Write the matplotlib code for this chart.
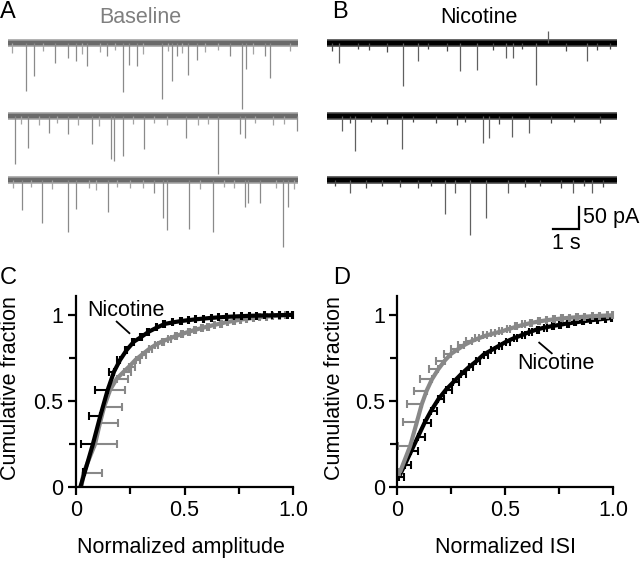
import numpy as np
import matplotlib
matplotlib.use('Agg')
from matplotlib import pyplot as plt

plt.rcParams['font.family'] = ['Liberation Sans', 'DejaVu Sans']

# ---- example traces: event times (s) and amplitudes (pA) per sweep ----
trace_len = 11.15
row_offsets = [0, -165, -310]

base_times = [
    [0.68, 1.01, 1.81, 2.30, 2.60, 3.05, 3.82, 4.43, 4.67, 4.95, 5.93, 6.30,
     6.49, 6.93, 7.26, 8.54, 8.99, 9.15, 9.88, 10.08],
    [0.27, 0.78, 1.58, 2.32, 3.24, 3.95, 4.09, 4.43, 5.24, 6.83, 8.09, 8.92,
     9.13, 11.10],
    [0.53, 1.32, 2.30, 2.60, 3.86, 5.63, 5.97, 6.10, 6.96, 7.90, 9.12, 9.24,
     9.69, 10.57, 10.78],
]
base_amps = [
    [109, 75, 45, 34, 41, 52, 30, 111, 50, 52, 127, 86, 30, 73, 39, 30, 150,
     59, 30, 79],
    [109, 73, 39, 41, 64, 98, 102, 91, 75, 50, 132, 41, 50, 34],
    [70, 98, 118, 66, 73, 30, 86, 114, 111, 118, 61, 52, 54, 152, 61],
]
# small blips riding on the noise
base_small_times = [
    [0.14, 1.36, 2.83, 3.54, 4.12, 5.20, 6.17, 6.68, 7.58, 8.09, 9.44, 10.85],
    [0.50, 1.20, 1.90, 2.70, 3.50, 4.80, 5.60, 6.10, 7.30, 7.70, 9.50, 10.20,
     10.60],
    [0.20, 0.90, 1.70, 3.10, 3.40, 4.20, 4.70, 5.20, 7.40, 8.30, 8.70, 10.30,
     11.00],
]
base_small_amps = [
    [22, 18, 25, 20, 16, 24, 18, 22, 20, 16, 24, 18],
    [18, 22, 16, 20, 24, 18, 16, 22, 20, 18, 16, 22, 18],
    [20, 16, 22, 18, 24, 16, 20, 18, 22, 16, 20, 18, 22],
]
nic_times = [
    [0.46, 2.93, 3.51, 5.12, 5.76, 6.87, 7.17, 8.03, 8.51, 9.99],
    [0.57, 1.08, 2.90, 6.01, 6.23, 7.10, 7.77],
    [0.88, 4.55, 4.92, 5.50, 6.10, 6.97, 9.47, 10.18],
]
nic_amps = [
    [45, 98, 41, 64, 61, 34, 34, 95, -27, 41],
    [34, 79, 75, 61, 50, 48, 39],
    [30, 79, 30, 125, 86, 30, 30, 30],
]
nic_small_times = [
    [0.20, 1.20, 1.60, 2.30, 3.90, 4.60, 6.40, 7.50, 9.20, 10.40, 10.90],
    [0.90, 1.70, 2.30, 3.30, 4.20, 5.00, 5.30, 6.60, 8.60, 9.50, 10.50],
    [0.30, 1.50, 2.10, 2.80, 3.50, 4.00, 7.60, 8.20, 9.00, 9.90, 10.60],
]
nic_small_amps = [
    [18, 14, 16, 20, 14, 18, 16, 14, 18, 16, 14],
    [16, 14, 18, 14, 16, 20, 14, 18, 16, 14, 16],
    [14, 18, 14, 16, 20, 14, 16, 14, 18, 14, 16],
]

# ---- cumulative distributions ----
nic_amp_x = [0.041, 0.078, 0.112, 0.146, 0.175, 0.203, 0.234, 0.267, 0.303, 0.336,
             0.375, 0.410, 0.448, 0.487, 0.520, 0.555, 0.590, 0.625, 0.660, 0.695,
             0.730, 0.765, 0.800, 0.835, 0.870, 0.905, 0.940, 0.975, 1.000]
nic_amp_y = [0.089, 0.250, 0.413, 0.564, 0.670, 0.738, 0.797, 0.845, 0.874, 0.903,
             0.928, 0.948, 0.957, 0.965, 0.970, 0.975, 0.979, 0.983, 0.986, 0.989,
             0.991, 0.993, 0.995, 0.996, 0.997, 0.998, 0.999, 1.000, 1.000]
nic_amp_err = [0.010, 0.054, 0.054, 0.058, 0.023, 0.012, 0.010, 0.009, 0.008, 0.008,
               0.007, 0.007, 0.006, 0.006, 0.006, 0.005, 0.005, 0.005, 0.005, 0.004,
               0.004, 0.004, 0.004, 0.004, 0.003, 0.003, 0.003, 0.003, 0.003]
nic_amp_start = 0.02

base_amp_x = [0.034, 0.088, 0.110, 0.130, 0.157, 0.188, 0.220, 0.245, 0.275, 0.305,
              0.335, 0.365, 0.395, 0.425, 0.455, 0.485, 0.515, 0.545, 0.575, 0.605,
              0.635, 0.665, 0.695, 0.725, 0.755, 0.785, 0.815, 0.845, 0.875, 0.905,
              0.935, 0.965, 0.995]
base_amp_y = [0.080, 0.250, 0.370, 0.467, 0.564, 0.630, 0.670, 0.700, 0.740, 0.770,
              0.800, 0.825, 0.845, 0.860, 0.875, 0.888, 0.900, 0.912, 0.922, 0.932,
              0.941, 0.950, 0.958, 0.965, 0.972, 0.977, 0.982, 0.986, 0.990, 0.993,
              0.996, 0.998, 1.000]
base_amp_err = [0.085, 0.100, 0.085, 0.080, 0.070, 0.050, 0.035, 0.025, 0.020, 0.018,
                0.015, 0.013, 0.012, 0.011, 0.010, 0.010, 0.009, 0.009, 0.008, 0.008,
                0.007, 0.007, 0.006, 0.006, 0.006, 0.005, 0.005, 0.005, 0.004, 0.004,
                0.004, 0.003, 0.003]
base_amp_start = 0.025

base_isi_x = [0.012, 0.060, 0.090, 0.113, 0.136, 0.160, 0.190, 0.220, 0.250, 0.280,
              0.310, 0.345, 0.380, 0.415, 0.450, 0.485, 0.520, 0.555, 0.590, 0.625,
              0.660, 0.695, 0.730, 0.765, 0.800, 0.835, 0.870, 0.905, 0.940, 0.975,
              1.000]
base_isi_y = [0.085, 0.240, 0.375, 0.480, 0.560, 0.625, 0.685, 0.735, 0.775, 0.800,
              0.825, 0.848, 0.866, 0.882, 0.894, 0.905, 0.920, 0.933, 0.945, 0.955,
              0.963, 0.970, 0.975, 0.980, 0.984, 0.987, 0.990, 0.993, 0.995, 0.997,
              0.998]
base_isi_err = [0.008, 0.055, 0.065, 0.067, 0.057, 0.057, 0.045, 0.040, 0.035, 0.030,
                0.028, 0.025, 0.022, 0.020, 0.018, 0.016, 0.014, 0.012, 0.011, 0.010,
                0.009, 0.008, 0.008, 0.007, 0.007, 0.006, 0.006, 0.005, 0.005, 0.004,
                0.004]

nic_isi_x = [0.008, 0.035, 0.065, 0.095, 0.125, 0.155, 0.190, 0.225, 0.260, 0.295,
             0.330, 0.365, 0.400, 0.435, 0.470, 0.505, 0.540, 0.575, 0.610, 0.645,
             0.680, 0.715, 0.750, 0.785, 0.820, 0.855, 0.890, 0.925, 0.960, 0.990]
nic_isi_y = [0.060, 0.130, 0.210, 0.290, 0.370, 0.440, 0.510, 0.565, 0.610, 0.655,
             0.695, 0.730, 0.770, 0.795, 0.820, 0.845, 0.865, 0.882, 0.900, 0.915,
             0.926, 0.935, 0.942, 0.950, 0.956, 0.962, 0.968, 0.973, 0.978, 0.982]
nic_isi_err = [0.025, 0.030, 0.033, 0.033, 0.030, 0.030, 0.028, 0.026, 0.025, 0.024,
               0.022, 0.020, 0.019, 0.018, 0.017, 0.016, 0.015, 0.014, 0.013, 0.012,
               0.011, 0.010, 0.010, 0.009, 0.008, 0.008, 0.007, 0.006, 0.006, 0.005]

GRAY = '#888888'
FS = 15.5

fig = plt.figure(figsize=(6.4, 5.61), dpi=100)

# ---- top traces ----
def draw_traces(ax, times, amps, s_times, s_amps, band_light, band_dark, spike_color):
    for i, off in enumerate(row_offsets):
        ax.plot([0, trace_len], [off, off], color=band_light, lw=5.5,
                solid_capstyle='butt')
        ax.plot([0, trace_len], [off, off], color=band_dark, lw=3.2,
                solid_capstyle='butt')
        ax.vlines(s_times[i], off, off - np.array(s_amps[i]), color=band_light, lw=0.9)
        ax.vlines(times[i], off, off - np.array(amps[i]), color=spike_color, lw=0.9)
    ax.set_ylim(-481, 41)
    ax.axis('off')

axA = fig.add_axes([0.0, 306 / 561, 0.5, 230 / 561])
draw_traces(axA, base_times, base_amps, base_small_times, base_small_amps,
            '#a4a4a4', '#6a6a6a', '#8a8a8a')
axA.set_xlim(-0.3077, 12.0)

axB = fig.add_axes([0.5, 306 / 561, 0.5, 230 / 561])
draw_traces(axB, nic_times, nic_amps, nic_small_times, nic_small_amps,
            '#4a4a4a', '#000000', '#606060')
axB.set_xlim(-0.269, 12.04)

# scale bar 1 s / 50 pA
axB.plot([8.69, 9.69, 9.69], [-422, -422, -372], color='k', lw=1.6,
         solid_joinstyle='miter')
axB.text(9.85, -397, '50 pA', fontsize=FS, ha='left', va='center')
axB.text(9.19, -455, '1 s', fontsize=FS, ha='center', va='center')

# ---- cumulative plots ----
def style_ax(ax, xlabel):
    ax.set_xlim(0, 1.0)
    ax.set_ylim(0, 1.11)
    for s in ['top', 'right']:
        ax.spines[s].set_visible(False)
    for s in ['left', 'bottom']:
        ax.spines[s].set_linewidth(1.6)
    ax.set_xticks([0, 0.5, 1.0])
    ax.set_xticklabels(['0', '0.5', '1.0'])
    ax.set_yticks([0, 0.5, 1.0])
    ax.set_yticklabels(['0', '0.5', '1'])
    ax.set_xticks([0.25, 0.75], minor=True)
    ax.set_yticks([0.25, 0.75], minor=True)
    ax.tick_params(which='major', direction='out', length=6, width=1.6,
                   labelsize=FS, pad=3)
    ax.tick_params(which='minor', direction='out', length=5, width=1.6)
    ax.set_ylabel('Cumulative fraction', fontsize=FS, va='center')
    ax.set_xlabel(xlabel, fontsize=FS, va='center')

def draw_cdf(ax, x, y, err, start, color, side):
    x = np.array(x)
    y = np.array(y)
    err = np.array(err)
    zeros = np.zeros_like(err)
    xerr = [err, zeros] if side == 'left' else [zeros, err]
    ax.errorbar(x, y, xerr=xerr, fmt='none', ecolor=color, elinewidth=1.5,
                capsize=3, capthick=1.5, clip_on=False)
    if start is None:
        cx, cy = x, y
    else:
        cx, cy = np.r_[start, x], np.r_[0, y]
    ax.plot(cx, cy, color=color, lw=3, clip_on=False, solid_capstyle='butt')

axC = fig.add_axes([76 / 640, 74 / 561, 217 / 640, 191 / 561])
style_ax(axC, 'Normalized amplitude')
draw_cdf(axC, base_amp_x, base_amp_y, base_amp_err, base_amp_start, GRAY, 'right')
draw_cdf(axC, nic_amp_x, nic_amp_y, nic_amp_err, nic_amp_start, 'k', 'left')
axC.text(0.23, 1.025, 'Nicotine', fontsize=FS, ha='center', va='center')
axC.plot([0.1875, 0.246], [0.961, 0.894], color='k', lw=1.3)
axC.yaxis.set_label_coords(-0.304, 0.518)
axC.xaxis.set_label_coords(0.484, -0.317)

axD = fig.add_axes([397.3 / 640, 74 / 561, 216 / 640, 191 / 561])
style_ax(axD, 'Normalized ISI')
draw_cdf(axD, nic_isi_x, nic_isi_y, nic_isi_err, None, 'k', 'right')
draw_cdf(axD, base_isi_x, base_isi_y, base_isi_err, None, GRAY, 'left')
axD.text(0.735, 0.715, 'Nicotine', fontsize=FS, ha='center', va='center')
axD.plot([0.657, 0.715], [0.839, 0.777], color='k', lw=1.3)
axD.yaxis.set_label_coords(-0.293, 0.518)
axD.xaxis.set_label_coords(0.503, -0.317)

# ---- titles and panel letters ----
fig.text(140 / 640, 1 - 23 / 561, 'Baseline', color='#7f7f7f', fontsize=FS,
         ha='center', va='baseline')
fig.text(479 / 640, 1 - 23 / 561, 'Nicotine', color='k', fontsize=FS,
         ha='center', va='baseline')
for lab, px, py in [('A', 0, 18), ('B', 332, 18), ('C', 0, 284), ('D', 333, 284)]:
    fig.text(px / 640, 1 - py / 561, lab, fontsize=17, ha='left', va='baseline')

fig.savefig('out.png', dpi=100)
